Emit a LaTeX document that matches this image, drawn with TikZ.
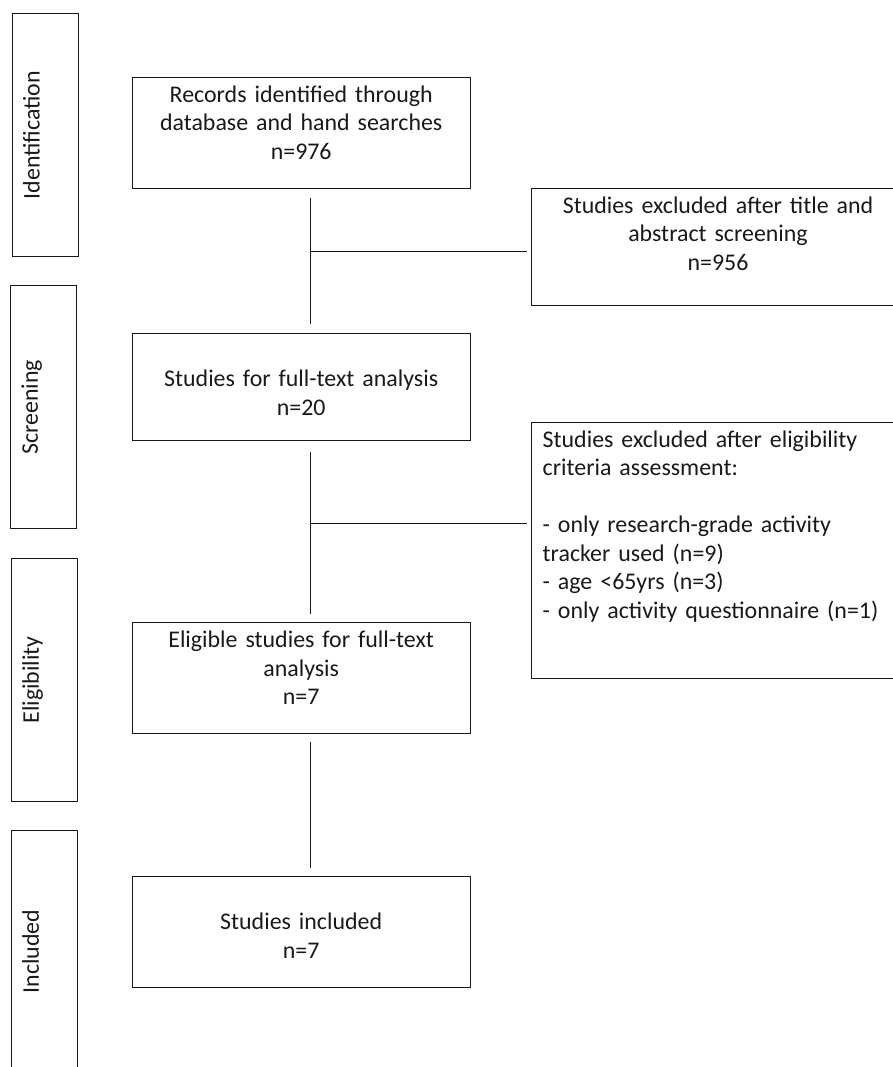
\documentclass[tikz,border=0pt]{standalone}
\usepackage{fontspec}
\setmainfont{Carlito}
\usetikzlibrary{positioning}

\begin{document}
\begin{tikzpicture}[x=1pt, y=-1pt, line join=miter,
		every node/.style={font=\fontsize{23.9}{28.5}\selectfont, text=black!90},
		phase/.style={draw=black!90, line width=0.9pt, rotate=90, inner sep=0pt, minimum width=243pt, minimum height=66.5pt, text height=27.6pt, text depth=38.9pt},
		stage/.style={draw=black!90, line width=0.9pt, anchor=north, inner xsep=8pt, inner ysep=0pt, text width=322pt, align=center, text height=25pt, text depth=85.5pt},
		excl/.style={stage, text width=350.6pt, inner xsep=11pt},
		link/.style={draw=black!90, line width=0.9pt}]
				% Khung hình và vùng cắt
				\useasboundingbox (0,0) rectangle (893,1067);
				\clip (0,0) rectangle (893,1067);
				
				% Các cột giai đoạn bên trái
				\node[phase] (ident) at (45.2,135.2) {Identification};
				\node[phase] (screen) at (43.5,407.3) {Screening};
				\node[phase] (elig) at (44.5,679.8) {Eligibility};
				\node[phase] (incl) at (44.5,951.5) {Included};
				
				% Các hộp chính
				\node[stage, text depth=86.6pt] (records) at (301.2,76.7) {Records identified through\\database and hand searches\\n=976};
				\node[stage, text height=53.5pt, text depth=54.1pt] (fulltext) at (301.2,332.7) {Studies for full-text analysis\\n=20};
				\node[stage, text depth=85.7pt] (eligible) at (301.2,622.3) {Eligible studies for full-text\\analysis\\n=7};
				\node[stage, text height=53.5pt, text depth=57.5pt] (included) at (301.2,876) {Studies included\\n=7};
				
				% Các hộp loại trừ
				\node[excl, text depth=92.3pt] (excl1) at (718,187.7) {Studies excluded after title and\\abstract screening\\n=956};
				\node[excl, align=left, text depth=231pt] (excl2) at (718,421.7) {Studies excluded after eligibility\\criteria assessment:\\\mbox{}\\- only research-grade activity\\tracker used (n=9)\\- age <65yrs (n=3)\\- only activity questionnaire (n=1)};
				
				% Các điểm rẽ nhánh
				\coordinate (j1) at (310,251);
				\coordinate (j2) at (310,523.3);
				
				% Đường nối
				\draw[link, shorten <=8.7pt, shorten >=8.5pt] ([xshift=8.8pt]records.south) -- ([xshift=8.8pt]fulltext.north);
				\draw[link, shorten <=10.7pt, shorten >=8pt] ([xshift=8.8pt]fulltext.south) -- ([xshift=8.8pt]eligible.north);
				\draw[link, shorten <=8pt, shorten >=8pt] ([xshift=8.8pt]eligible.south) -- ([xshift=8.8pt]included.north);
				\draw[link, shorten >=4pt] (j1) -- (j1 -| excl1.west);
				\draw[link, shorten >=4pt] (j2) -- (j2 -| excl2.west);
		\end{tikzpicture}
\end{document}
